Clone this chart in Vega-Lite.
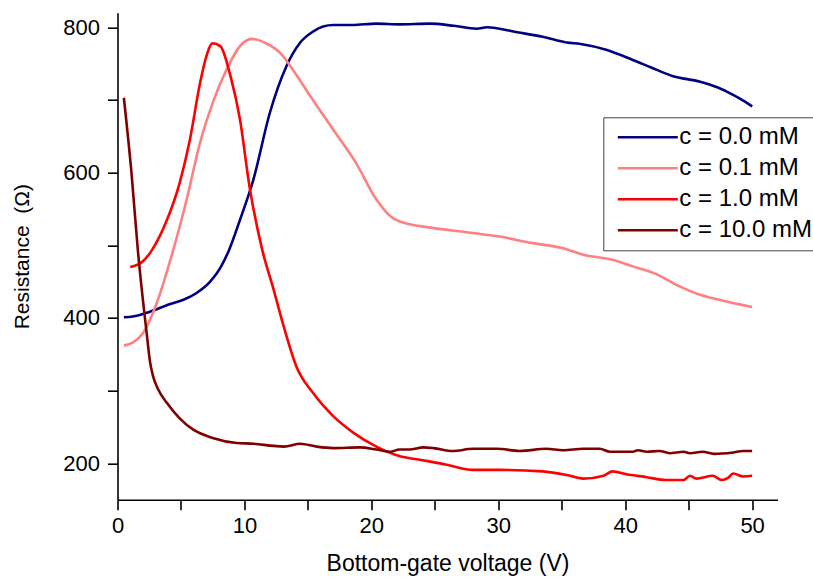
{
  "$schema": "https://vega.github.io/schema/vega-lite/v6.json",
  "autosize": "none",
  "width": 660,
  "height": 487,
  "padding": {"left": 117.5, "top": 12.7, "right": 35.5, "bottom": 80.3},
  "background": "white",
  "config": {
    "font": "Liberation Sans",
    "view": {"stroke": null},
    "axis": {"grid": false, "domainColor": "black", "domainWidth": 1.6, "tickColor": "black", "tickWidth": 1.6, "labelColor": "black", "titleColor": "black", "labelFontSize": 22, "titleFontSize": 23, "titleFontWeight": "normal", "labelFont": "Liberation Sans", "titleFont": "Liberation Sans"}
  },
  "datasets": {
    "d": [
      {"c": "c = 0.0 mM", "V": 0.5, "R": 401}, {"c": "c = 0.0 mM", "V": 1.2, "R": 402}, {"c": "c = 0.0 mM", "V": 2.6, "R": 409}, {"c": "c = 0.0 mM", "V": 4.1, "R": 419}, {"c": "c = 0.0 mM", "V": 5.2, "R": 425}, {"c": "c = 0.0 mM", "V": 6.2, "R": 434}, {"c": "c = 0.0 mM", "V": 7.3, "R": 450}, {"c": "c = 0.0 mM", "V": 8.1, "R": 469}, {"c": "c = 0.0 mM", "V": 8.8, "R": 494}, {"c": "c = 0.0 mM", "V": 9.65, "R": 535}, {"c": "c = 0.0 mM", "V": 10.7, "R": 590}, {"c": "c = 0.0 mM", "V": 12.0, "R": 682}, {"c": "c = 0.0 mM", "V": 13.3, "R": 746}, {"c": "c = 0.0 mM", "V": 14.4, "R": 779}, {"c": "c = 0.0 mM", "V": 15.4, "R": 794}, {"c": "c = 0.0 mM", "V": 16.2, "R": 801}, {"c": "c = 0.0 mM", "V": 17.0, "R": 803}, {"c": "c = 0.0 mM", "V": 18.5, "R": 803}, {"c": "c = 0.0 mM", "V": 20.4, "R": 805}, {"c": "c = 0.0 mM", "V": 22.2, "R": 804}, {"c": "c = 0.0 mM", "V": 24.6, "R": 805}, {"c": "c = 0.0 mM", "V": 26.5, "R": 802}, {"c": "c = 0.0 mM", "V": 28.3, "R": 798}, {"c": "c = 0.0 mM", "V": 29.1, "R": 800}, {"c": "c = 0.0 mM", "V": 31.5, "R": 793}, {"c": "c = 0.0 mM", "V": 33.5, "R": 787}, {"c": "c = 0.0 mM", "V": 35.4, "R": 779}, {"c": "c = 0.0 mM", "V": 36.5, "R": 777}, {"c": "c = 0.0 mM", "V": 38.5, "R": 769}, {"c": "c = 0.0 mM", "V": 40.6, "R": 755}, {"c": "c = 0.0 mM", "V": 42.0, "R": 745}, {"c": "c = 0.0 mM", "V": 43.7, "R": 733}, {"c": "c = 0.0 mM", "V": 45.9, "R": 725}, {"c": "c = 0.0 mM", "V": 47.3, "R": 717}, {"c": "c = 0.0 mM", "V": 48.5, "R": 707}, {"c": "c = 0.0 mM", "V": 49.5, "R": 697}, {"c": "c = 0.0 mM", "V": 50.0, "R": 691},
      {"c": "c = 0.1 mM", "V": 0.5, "R": 362}, {"c": "c = 0.1 mM", "V": 1.2, "R": 366}, {"c": "c = 0.1 mM", "V": 2.0, "R": 379}, {"c": "c = 0.1 mM", "V": 3.1, "R": 421}, {"c": "c = 0.1 mM", "V": 4.1, "R": 476}, {"c": "c = 0.1 mM", "V": 4.4, "R": 494}, {"c": "c = 0.1 mM", "V": 5.45, "R": 563}, {"c": "c = 0.1 mM", "V": 6.5, "R": 641}, {"c": "c = 0.1 mM", "V": 7.5, "R": 696}, {"c": "c = 0.1 mM", "V": 8.6, "R": 742}, {"c": "c = 0.1 mM", "V": 9.65, "R": 774}, {"c": "c = 0.1 mM", "V": 10.6, "R": 784}, {"c": "c = 0.1 mM", "V": 11.7, "R": 778}, {"c": "c = 0.1 mM", "V": 12.8, "R": 765}, {"c": "c = 0.1 mM", "V": 13.8, "R": 742}, {"c": "c = 0.1 mM", "V": 15.2, "R": 705}, {"c": "c = 0.1 mM", "V": 17.0, "R": 659}, {"c": "c = 0.1 mM", "V": 18.8, "R": 613}, {"c": "c = 0.1 mM", "V": 20.4, "R": 563}, {"c": "c = 0.1 mM", "V": 21.5, "R": 540}, {"c": "c = 0.1 mM", "V": 22.2, "R": 533}, {"c": "c = 0.1 mM", "V": 24.8, "R": 524}, {"c": "c = 0.1 mM", "V": 27.5, "R": 518}, {"c": "c = 0.1 mM", "V": 30.1, "R": 512}, {"c": "c = 0.1 mM", "V": 32.7, "R": 503}, {"c": "c = 0.1 mM", "V": 35.1, "R": 496}, {"c": "c = 0.1 mM", "V": 36.7, "R": 487}, {"c": "c = 0.1 mM", "V": 39.0, "R": 480}, {"c": "c = 0.1 mM", "V": 40.6, "R": 471}, {"c": "c = 0.1 mM", "V": 42.5, "R": 460}, {"c": "c = 0.1 mM", "V": 44.0, "R": 446}, {"c": "c = 0.1 mM", "V": 45.9, "R": 432}, {"c": "c = 0.1 mM", "V": 47.4, "R": 425}, {"c": "c = 0.1 mM", "V": 50.0, "R": 415},
      {"c": "c = 1.0 mM", "V": 1.0, "R": 470}, {"c": "c = 1.0 mM", "V": 2.0, "R": 478}, {"c": "c = 1.0 mM", "V": 2.7, "R": 493}, {"c": "c = 1.0 mM", "V": 3.9, "R": 535}, {"c": "c = 1.0 mM", "V": 4.9, "R": 586}, {"c": "c = 1.0 mM", "V": 5.7, "R": 645}, {"c": "c = 1.0 mM", "V": 6.5, "R": 723}, {"c": "c = 1.0 mM", "V": 7.0, "R": 760}, {"c": "c = 1.0 mM", "V": 7.5, "R": 778}, {"c": "c = 1.0 mM", "V": 8.1, "R": 774}, {"c": "c = 1.0 mM", "V": 8.9, "R": 733}, {"c": "c = 1.0 mM", "V": 9.65, "R": 673}, {"c": "c = 1.0 mM", "V": 10.4, "R": 581}, {"c": "c = 1.0 mM", "V": 11.4, "R": 494}, {"c": "c = 1.0 mM", "V": 12.3, "R": 439}, {"c": "c = 1.0 mM", "V": 13.1, "R": 388}, {"c": "c = 1.0 mM", "V": 14.1, "R": 333}, {"c": "c = 1.0 mM", "V": 15.4, "R": 297}, {"c": "c = 1.0 mM", "V": 17.0, "R": 265}, {"c": "c = 1.0 mM", "V": 18.6, "R": 242}, {"c": "c = 1.0 mM", "V": 20.4, "R": 223}, {"c": "c = 1.0 mM", "V": 22.2, "R": 210}, {"c": "c = 1.0 mM", "V": 23.8, "R": 205}, {"c": "c = 1.0 mM", "V": 25.4, "R": 200}, {"c": "c = 1.0 mM", "V": 26.2, "R": 197}, {"c": "c = 1.0 mM", "V": 28.0, "R": 191}, {"c": "c = 1.0 mM", "V": 30.1, "R": 191}, {"c": "c = 1.0 mM", "V": 33.5, "R": 189}, {"c": "c = 1.0 mM", "V": 35.4, "R": 184}, {"c": "c = 1.0 mM", "V": 36.7, "R": 179}, {"c": "c = 1.0 mM", "V": 38.3, "R": 183}, {"c": "c = 1.0 mM", "V": 39.0, "R": 189}, {"c": "c = 1.0 mM", "V": 40.1, "R": 185}, {"c": "c = 1.0 mM", "V": 41.7, "R": 181}, {"c": "c = 1.0 mM", "V": 43.2, "R": 177}, {"c": "c = 1.0 mM", "V": 44.6, "R": 177}, {"c": "c = 1.0 mM", "V": 45.1, "R": 183}, {"c": "c = 1.0 mM", "V": 45.6, "R": 179}, {"c": "c = 1.0 mM", "V": 46.9, "R": 183}, {"c": "c = 1.0 mM", "V": 47.6, "R": 177}, {"c": "c = 1.0 mM", "V": 48.1, "R": 180}, {"c": "c = 1.0 mM", "V": 48.5, "R": 186}, {"c": "c = 1.0 mM", "V": 49.3, "R": 182}, {"c": "c = 1.0 mM", "V": 50.0, "R": 183},
      {"c": "c = 10.0 mM", "V": 0.5, "R": 703}, {"c": "c = 10.0 mM", "V": 1.1, "R": 600}, {"c": "c = 10.0 mM", "V": 1.6, "R": 494}, {"c": "c = 10.0 mM", "V": 2.0, "R": 425}, {"c": "c = 10.0 mM", "V": 2.3, "R": 379}, {"c": "c = 10.0 mM", "V": 2.56, "R": 340}, {"c": "c = 10.0 mM", "V": 2.8, "R": 320}, {"c": "c = 10.0 mM", "V": 3.2, "R": 302}, {"c": "c = 10.0 mM", "V": 3.9, "R": 283}, {"c": "c = 10.0 mM", "V": 4.9, "R": 262}, {"c": "c = 10.0 mM", "V": 6.0, "R": 246}, {"c": "c = 10.0 mM", "V": 7.5, "R": 235}, {"c": "c = 10.0 mM", "V": 9.4, "R": 228}, {"c": "c = 10.0 mM", "V": 10.7, "R": 227}, {"c": "c = 10.0 mM", "V": 12.3, "R": 224}, {"c": "c = 10.0 mM", "V": 13.1, "R": 223}, {"c": "c = 10.0 mM", "V": 14.4, "R": 227}, {"c": "c = 10.0 mM", "V": 15.7, "R": 223}, {"c": "c = 10.0 mM", "V": 17.0, "R": 221}, {"c": "c = 10.0 mM", "V": 19.1, "R": 222}, {"c": "c = 10.0 mM", "V": 20.4, "R": 219}, {"c": "c = 10.0 mM", "V": 21.5, "R": 216}, {"c": "c = 10.0 mM", "V": 22.2, "R": 219}, {"c": "c = 10.0 mM", "V": 23.0, "R": 219}, {"c": "c = 10.0 mM", "V": 24.1, "R": 222}, {"c": "c = 10.0 mM", "V": 24.9, "R": 221}, {"c": "c = 10.0 mM", "V": 26.4, "R": 217}, {"c": "c = 10.0 mM", "V": 28.0, "R": 220}, {"c": "c = 10.0 mM", "V": 29.9, "R": 220}, {"c": "c = 10.0 mM", "V": 31.7, "R": 217}, {"c": "c = 10.0 mM", "V": 33.8, "R": 220}, {"c": "c = 10.0 mM", "V": 35.1, "R": 218}, {"c": "c = 10.0 mM", "V": 36.7, "R": 220}, {"c": "c = 10.0 mM", "V": 38.0, "R": 220}, {"c": "c = 10.0 mM", "V": 38.8, "R": 216}, {"c": "c = 10.0 mM", "V": 40.6, "R": 216}, {"c": "c = 10.0 mM", "V": 41.0, "R": 218}, {"c": "c = 10.0 mM", "V": 41.7, "R": 216}, {"c": "c = 10.0 mM", "V": 42.7, "R": 217}, {"c": "c = 10.0 mM", "V": 43.5, "R": 214}, {"c": "c = 10.0 mM", "V": 44.6, "R": 216}, {"c": "c = 10.0 mM", "V": 45.1, "R": 214}, {"c": "c = 10.0 mM", "V": 46.1, "R": 216}, {"c": "c = 10.0 mM", "V": 47.0, "R": 213}, {"c": "c = 10.0 mM", "V": 48.5, "R": 215}, {"c": "c = 10.0 mM", "V": 49.3, "R": 217}, {"c": "c = 10.0 mM", "V": 50.0, "R": 217}
    ]
  },
  "data": {"name": "d"},
  "mark": {"type": "line", "strokeWidth": 2.6, "clip": true, "interpolate": "monotone"},
  "encoding": {
    "x": {
      "field": "V", "type": "quantitative",
      "scale": {"domain": [0, 52], "nice": false, "zero": false},
      "axis": {
        "title": "Bottom-gate voltage (V)",
        "values": [0, 5, 10, 15, 20, 25, 30, 35, 40, 45, 50],
        "labelExpr": "datum.value % 10 === 0 ? datum.label : ''",
        "labelFontSize": 22,
        "tickSize": 10, "labelPadding": 6, "titlePadding": 16,
        "labelFlush": false, "labelOverlap": false,
        "encode": {"ticks": {"update": {"y2": {"signal": "datum.value % 10 === 0 ? 10 : 7"}}}}
      }
    },
    "y": {
      "field": "R", "type": "quantitative",
      "scale": {"domain": [150, 820], "nice": false, "zero": false},
      "axis": {
        "title": "Resistance \u00a0(Ω)",
        "titleFontSize": 21,
        "values": [200, 300, 400, 500, 600, 700, 800],
        "labelExpr": "datum.value % 200 === 0 ? datum.label : ''",
        "labelFontSize": 22,
        "tickSize": 10, "labelPadding": 8, "titlePadding": 30,
        "labelFlush": false, "labelOverlap": false,
        "encode": {"ticks": {"update": {"x2": {"signal": "datum.value % 200 === 0 ? -10 : -6"}}}}
      }
    },
    "color": {
      "field": "c", "type": "nominal",
      "scale": {"domain": ["c = 0.0 mM", "c = 0.1 mM", "c = 1.0 mM", "c = 10.0 mM"], "range": ["#000080", "#FF8080", "#FF0000", "#800000"]},
      "legend": {
        "title": null, "orient": "none", "legendX": 485.8, "legendY": 104.6,
        "symbolType": "M-0.55,0L5.45,0", "symbolSize": 400, "symbolStrokeWidth": 2.6,
        "labelFontSize": 24, "labelColor": "black", "labelFont": "Liberation Sans", "labelOffset": 44,
        "rowPadding": 7, "padding": 8,
        "strokeColor": "#444444", "fillColor": "white", "labelLimit": 300
      }
    },
    "order": {"field": "V", "type": "quantitative"}
  }
}
